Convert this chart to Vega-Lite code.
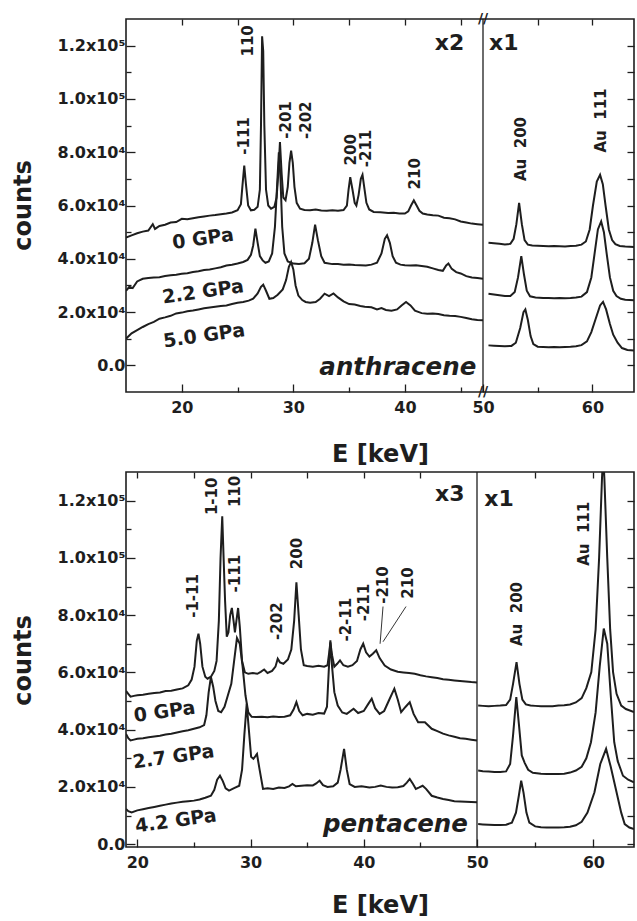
{
"$schema": "https://vega.github.io/schema/vega-lite/v6.json",
"background": "white",
"padding": {"left": 10, "top": 11, "right": 1, "bottom": 0},
"bounds": "flush",
"spacing": 80,
"config": {
 "view": {"stroke": "#1e1e1e", "strokeWidth": 1.6},
 "font": "DejaVu Sans",
 "axis": {"domain": false, "grid": false, "labelFont": "DejaVu Sans", "labelFontWeight": "bold", "labelFontSize": 16, "labelColor": "#1e1e1e", "tickColor": "#1e1e1e", "tickWidth": 1.3, "titleFont": "DejaVu Sans", "titleFontWeight": "bold", "titleFontSize": 24, "titleColor": "#1e1e1e"}
},
"datasets": {
 "topLines": [
  {"s":"a0","e":15,"c":48000},{"s":"a0","e":15.5,"c":48800},{"s":"a0","e":16,"c":49600},{"s":"a0","e":16.5,"c":50200},{"s":"a0","e":17,"c":50600},{"s":"a0","e":17.4,"c":53000},{"s":"a0","e":17.6,"c":51200},{"s":"a0","e":18,"c":52300},{"s":"a0","e":18.5,"c":52800},{"s":"a0","e":19,"c":53600},{"s":"a0","e":19.5,"c":53800},{"s":"a0","e":20,"c":55000},{"s":"a0","e":20.5,"c":54800},{"s":"a0","e":21,"c":55200},{"s":"a0","e":21.5,"c":55600},{"s":"a0","e":22,"c":55900},{"s":"a0","e":22.5,"c":56200},{"s":"a0","e":23,"c":56400},{"s":"a0","e":23.5,"c":56700},{"s":"a0","e":24,"c":57000},{"s":"a0","e":24.5,"c":57400},{"s":"a0","e":25,"c":58200},{"s":"a0","e":25.3,"c":60500},{"s":"a0","e":25.45,"c":68000},{"s":"a0","e":25.6,"c":75000},{"s":"a0","e":25.75,"c":68000},{"s":"a0","e":25.95,"c":60000},{"s":"a0","e":26.2,"c":58200},{"s":"a0","e":26.5,"c":58400},{"s":"a0","e":26.8,"c":59500},{"s":"a0","e":27,"c":66000},{"s":"a0","e":27.1,"c":90000},{"s":"a0","e":27.2,"c":123500},{"s":"a0","e":27.3,"c":118000},{"s":"a0","e":27.4,"c":90000},{"s":"a0","e":27.55,"c":66000},{"s":"a0","e":27.75,"c":60000},{"s":"a0","e":28,"c":58800},{"s":"a0","e":28.3,"c":59500},{"s":"a0","e":28.5,"c":63000},{"s":"a0","e":28.65,"c":72000},{"s":"a0","e":28.8,"c":83800},{"s":"a0","e":28.95,"c":72000},{"s":"a0","e":29.1,"c":63000},{"s":"a0","e":29.3,"c":62000},{"s":"a0","e":29.5,"c":67000},{"s":"a0","e":29.65,"c":76000},{"s":"a0","e":29.8,"c":80600},{"s":"a0","e":29.95,"c":76000},{"s":"a0","e":30.1,"c":67000},{"s":"a0","e":30.3,"c":61000},{"s":"a0","e":30.6,"c":58800},{"s":"a0","e":31,"c":58300},{"s":"a0","e":31.5,"c":58200},{"s":"a0","e":32,"c":58500},{"s":"a0","e":32.5,"c":58100},{"s":"a0","e":33,"c":58000},{"s":"a0","e":33.5,"c":58200},{"s":"a0","e":34,"c":58000},{"s":"a0","e":34.5,"c":58300},{"s":"a0","e":34.8,"c":60000},{"s":"a0","e":34.95,"c":66000},{"s":"a0","e":35.1,"c":70600},{"s":"a0","e":35.3,"c":66000},{"s":"a0","e":35.5,"c":61000},{"s":"a0","e":35.65,"c":60000},{"s":"a0","e":35.85,"c":64000},{"s":"a0","e":36.05,"c":70000},{"s":"a0","e":36.2,"c":71500},{"s":"a0","e":36.35,"c":67000},{"s":"a0","e":36.55,"c":61000},{"s":"a0","e":36.8,"c":58500},{"s":"a0","e":37.2,"c":57600},{"s":"a0","e":37.8,"c":57500},{"s":"a0","e":38.5,"c":57200},{"s":"a0","e":39,"c":57300},{"s":"a0","e":39.5,"c":57000},{"s":"a0","e":40,"c":57000},{"s":"a0","e":40.3,"c":57800},{"s":"a0","e":40.55,"c":60000},{"s":"a0","e":40.8,"c":61900},{"s":"a0","e":41.05,"c":60000},{"s":"a0","e":41.3,"c":58000},{"s":"a0","e":41.6,"c":57000},{"s":"a0","e":42,"c":56600},{"s":"a0","e":42.5,"c":56300},{"s":"a0","e":43,"c":56200},{"s":"a0","e":43.5,"c":55400},{"s":"a0","e":44,"c":55200},{"s":"a0","e":44.5,"c":54800},{"s":"a0","e":45,"c":54000},{"s":"a0","e":45.5,"c":53600},{"s":"a0","e":46,"c":53200},{"s":"a0","e":46.5,"c":53000},{"s":"a0","e":47,"c":52800},
  {"s":"a22","e":15,"c":28000},{"s":"a22","e":15.3,"c":29500},{"s":"a22","e":15.6,"c":29000},{"s":"a22","e":16,"c":31500},{"s":"a22","e":16.5,"c":32500},{"s":"a22","e":17,"c":32800},{"s":"a22","e":17.5,"c":33000},{"s":"a22","e":18,"c":33100},{"s":"a22","e":18.5,"c":33500},{"s":"a22","e":19,"c":33800},{"s":"a22","e":19.5,"c":34000},{"s":"a22","e":20,"c":34400},{"s":"a22","e":20.5,"c":34600},{"s":"a22","e":21,"c":35000},{"s":"a22","e":21.5,"c":35300},{"s":"a22","e":22,"c":35800},{"s":"a22","e":22.5,"c":36000},{"s":"a22","e":23,"c":36400},{"s":"a22","e":23.5,"c":36800},{"s":"a22","e":24,"c":37500},{"s":"a22","e":24.5,"c":37800},{"s":"a22","e":25,"c":38200},{"s":"a22","e":25.5,"c":38800},{"s":"a22","e":25.9,"c":39600},{"s":"a22","e":26.2,"c":41500},{"s":"a22","e":26.4,"c":45000},{"s":"a22","e":26.6,"c":51300},{"s":"a22","e":26.8,"c":46000},{"s":"a22","e":27,"c":41000},{"s":"a22","e":27.25,"c":39400},{"s":"a22","e":27.5,"c":38500},{"s":"a22","e":27.8,"c":39000},{"s":"a22","e":28.1,"c":42000},{"s":"a22","e":28.35,"c":52000},{"s":"a22","e":28.55,"c":68000},{"s":"a22","e":28.7,"c":80000},{"s":"a22","e":28.85,"c":70000},{"s":"a22","e":29,"c":52000},{"s":"a22","e":29.2,"c":42000},{"s":"a22","e":29.5,"c":39000},{"s":"a22","e":30,"c":38200},{"s":"a22","e":30.5,"c":38000},{"s":"a22","e":31,"c":38300},{"s":"a22","e":31.4,"c":40000},{"s":"a22","e":31.7,"c":46000},{"s":"a22","e":31.95,"c":52800},{"s":"a22","e":32.2,"c":47000},{"s":"a22","e":32.5,"c":41000},{"s":"a22","e":32.8,"c":38500},{"s":"a22","e":33.5,"c":38000},{"s":"a22","e":34,"c":38000},{"s":"a22","e":34.5,"c":37800},{"s":"a22","e":35,"c":37900},{"s":"a22","e":35.5,"c":37700},{"s":"a22","e":36,"c":37600},{"s":"a22","e":36.5,"c":37500},{"s":"a22","e":37,"c":37800},{"s":"a22","e":37.5,"c":38500},{"s":"a22","e":37.9,"c":42000},{"s":"a22","e":38.2,"c":47500},{"s":"a22","e":38.4,"c":48800},{"s":"a22","e":38.65,"c":46000},{"s":"a22","e":38.9,"c":41000},{"s":"a22","e":39.2,"c":38500},{"s":"a22","e":39.6,"c":37800},{"s":"a22","e":40,"c":37600},{"s":"a22","e":40.5,"c":37500},{"s":"a22","e":41,"c":37600},{"s":"a22","e":41.5,"c":37300},{"s":"a22","e":42,"c":37000},{"s":"a22","e":42.5,"c":36400},{"s":"a22","e":43,"c":35800},{"s":"a22","e":43.4,"c":35500},{"s":"a22","e":43.7,"c":37500},{"s":"a22","e":43.9,"c":38200},{"s":"a22","e":44.2,"c":36200},{"s":"a22","e":44.6,"c":35000},{"s":"a22","e":45,"c":34500},{"s":"a22","e":45.5,"c":33500},{"s":"a22","e":46,"c":33000},{"s":"a22","e":46.5,"c":32800},{"s":"a22","e":47,"c":32500},
  {"s":"a50","e":15,"c":10000},{"s":"a50","e":15.5,"c":12000},{"s":"a50","e":16,"c":13200},{"s":"a50","e":16.5,"c":14400},{"s":"a50","e":17,"c":15500},{"s":"a50","e":17.5,"c":16300},{"s":"a50","e":18,"c":17500},{"s":"a50","e":18.5,"c":18000},{"s":"a50","e":19,"c":18600},{"s":"a50","e":19.5,"c":19500},{"s":"a50","e":20,"c":19800},{"s":"a50","e":20.5,"c":20300},{"s":"a50","e":21,"c":20600},{"s":"a50","e":21.5,"c":21000},{"s":"a50","e":22,"c":21400},{"s":"a50","e":22.5,"c":21700},{"s":"a50","e":23,"c":22000},{"s":"a50","e":23.5,"c":22300},{"s":"a50","e":24,"c":22500},{"s":"a50","e":24.5,"c":23000},{"s":"a50","e":25,"c":23500},{"s":"a50","e":25.5,"c":23800},{"s":"a50","e":26,"c":24300},{"s":"a50","e":26.4,"c":25000},{"s":"a50","e":26.8,"c":27000},{"s":"a50","e":27.1,"c":29500},{"s":"a50","e":27.3,"c":30300},{"s":"a50","e":27.55,"c":28000},{"s":"a50","e":27.85,"c":25000},{"s":"a50","e":28.2,"c":25300},{"s":"a50","e":28.6,"c":26500},{"s":"a50","e":29.05,"c":28500},{"s":"a50","e":29.35,"c":32000},{"s":"a50","e":29.6,"c":37000},{"s":"a50","e":29.8,"c":38800},{"s":"a50","e":30,"c":36000},{"s":"a50","e":30.2,"c":30000},{"s":"a50","e":30.45,"c":26200},{"s":"a50","e":30.8,"c":24500},{"s":"a50","e":31.1,"c":23800},{"s":"a50","e":31.5,"c":23500},{"s":"a50","e":32,"c":23800},{"s":"a50","e":32.4,"c":25000},{"s":"a50","e":32.8,"c":26900},{"s":"a50","e":33.2,"c":26000},{"s":"a50","e":33.6,"c":27000},{"s":"a50","e":34,"c":25500},{"s":"a50","e":34.5,"c":24000},{"s":"a50","e":35,"c":23000},{"s":"a50","e":35.5,"c":22800},{"s":"a50","e":36,"c":22300},{"s":"a50","e":36.4,"c":22000},{"s":"a50","e":37,"c":21800},{"s":"a50","e":37.5,"c":21000},{"s":"a50","e":37.9,"c":21500},{"s":"a50","e":38.3,"c":20800},{"s":"a50","e":38.8,"c":20500},{"s":"a50","e":39.3,"c":21000},{"s":"a50","e":39.7,"c":22500},{"s":"a50","e":40.1,"c":23800},{"s":"a50","e":40.5,"c":22500},{"s":"a50","e":40.9,"c":20500},{"s":"a50","e":41.5,"c":19600},{"s":"a50","e":42,"c":19400},{"s":"a50","e":42.5,"c":19500},{"s":"a50","e":43,"c":19300},{"s":"a50","e":43.5,"c":18800},{"s":"a50","e":44,"c":18600},{"s":"a50","e":44.5,"c":18500},{"s":"a50","e":45,"c":18200},{"s":"a50","e":45.5,"c":17800},{"s":"a50","e":46,"c":17300},{"s":"a50","e":46.5,"c":17000},{"s":"a50","e":47,"c":16900},
  {"s":"b0","e":50.5,"c":46000},{"s":"b0","e":51,"c":45800},{"s":"b0","e":51.5,"c":45600},{"s":"b0","e":52,"c":45400},{"s":"b0","e":52.5,"c":45600},{"s":"b0","e":52.8,"c":47500},{"s":"b0","e":53.05,"c":53000},{"s":"b0","e":53.3,"c":61000},{"s":"b0","e":53.55,"c":53000},{"s":"b0","e":53.8,"c":47000},{"s":"b0","e":54.1,"c":45300},{"s":"b0","e":54.5,"c":45000},{"s":"b0","e":55,"c":44900},{"s":"b0","e":55.5,"c":44800},{"s":"b0","e":56,"c":44700},{"s":"b0","e":56.5,"c":44800},{"s":"b0","e":57,"c":44700},{"s":"b0","e":57.5,"c":44600},{"s":"b0","e":58,"c":44800},{"s":"b0","e":58.5,"c":44900},{"s":"b0","e":59,"c":45300},{"s":"b0","e":59.4,"c":46500},{"s":"b0","e":59.75,"c":51000},{"s":"b0","e":60.05,"c":60000},{"s":"b0","e":60.4,"c":69000},{"s":"b0","e":60.7,"c":71500},{"s":"b0","e":60.95,"c":68000},{"s":"b0","e":61.2,"c":60000},{"s":"b0","e":61.5,"c":51000},{"s":"b0","e":61.8,"c":47000},{"s":"b0","e":62.1,"c":45500},{"s":"b0","e":62.5,"c":44800},{"s":"b0","e":63,"c":44600},{"s":"b0","e":63.8,"c":44400},
  {"s":"b22","e":50.5,"c":26900},{"s":"b22","e":51,"c":26600},{"s":"b22","e":51.5,"c":26300},{"s":"b22","e":52,"c":26000},{"s":"b22","e":52.5,"c":26000},{"s":"b22","e":52.9,"c":27500},{"s":"b22","e":53.2,"c":33000},{"s":"b22","e":53.5,"c":41000},{"s":"b22","e":53.75,"c":34000},{"s":"b22","e":54,"c":28000},{"s":"b22","e":54.3,"c":25900},{"s":"b22","e":54.8,"c":25500},{"s":"b22","e":55.5,"c":25300},{"s":"b22","e":56,"c":25300},{"s":"b22","e":56.5,"c":25200},{"s":"b22","e":57,"c":25300},{"s":"b22","e":57.5,"c":25200},{"s":"b22","e":58,"c":25300},{"s":"b22","e":58.5,"c":25500},{"s":"b22","e":59,"c":25800},{"s":"b22","e":59.5,"c":27500},{"s":"b22","e":59.9,"c":33000},{"s":"b22","e":60.2,"c":42000},{"s":"b22","e":60.5,"c":51000},{"s":"b22","e":60.8,"c":54000},{"s":"b22","e":61.05,"c":50000},{"s":"b22","e":61.3,"c":42000},{"s":"b22","e":61.6,"c":33000},{"s":"b22","e":61.9,"c":28000},{"s":"b22","e":62.2,"c":26000},{"s":"b22","e":62.6,"c":25000},{"s":"b22","e":63,"c":24600},{"s":"b22","e":63.8,"c":24400},
  {"s":"b50","e":50.5,"c":7500},{"s":"b50","e":51,"c":7400},{"s":"b50","e":51.5,"c":7300},{"s":"b50","e":52,"c":7200},{"s":"b50","e":52.6,"c":7300},{"s":"b50","e":53,"c":8500},{"s":"b50","e":53.4,"c":14000},{"s":"b50","e":53.7,"c":20000},{"s":"b50","e":53.87,"c":21000},{"s":"b50","e":54.1,"c":17000},{"s":"b50","e":54.35,"c":11000},{"s":"b50","e":54.6,"c":8000},{"s":"b50","e":55,"c":7000},{"s":"b50","e":55.5,"c":6900},{"s":"b50","e":56,"c":6800},{"s":"b50","e":56.5,"c":6900},{"s":"b50","e":57,"c":6800},{"s":"b50","e":57.5,"c":6900},{"s":"b50","e":58,"c":7000},{"s":"b50","e":58.5,"c":7200},{"s":"b50","e":59,"c":7600},{"s":"b50","e":59.5,"c":9000},{"s":"b50","e":59.9,"c":12500},{"s":"b50","e":60.3,"c":17500},{"s":"b50","e":60.7,"c":22500},{"s":"b50","e":60.97,"c":23800},{"s":"b50","e":61.25,"c":21000},{"s":"b50","e":61.6,"c":15500},{"s":"b50","e":61.9,"c":11500},{"s":"b50","e":62.3,"c":8500},{"s":"b50","e":62.7,"c":6500},{"s":"b50","e":63.2,"c":5800},{"s":"b50","e":63.8,"c":5600}
 ],
 "topHkl": [
  {"e":25.58,"c":86100,"t":"-111"},{"e":25.94,"c":121800,"t":"110"},{"e":29.3,"c":92100,"t":"-201"},{"e":31.09,"c":92000,"t":"-202"},{"e":35.17,"c":80900,"t":"200"},{"e":36.5,"c":81400,"t":"-211"},{"e":40.9,"c":71900,"t":"210"},{"e":53.43,"c":81200,"t":"Au\u00a0\u00a0200"},{"e":60.74,"c":91900,"t":"Au\u00a0\u00a0111"}
 ],
 "topPress": [
  {"e":21.9,"c":47500,"t":"0 GPa"},{"e":21.9,"c":27600,"t":"2.2 GPa"},{"e":22.0,"c":11100,"t":"5.0 GPa"}
 ],
 "topFactor": [
  {"e":44.0,"c":121000,"t":"x2"},{"e":51.9,"c":121000,"t":"x1"}
 ],
 "topName": [{"e":46.4,"c":-3500,"t":"anthracene"}],
 "topBreak": [{"e":50,"c":130000},{"e":50,"c":-10000}],
 "topDivider": [{"e":50}],
 "botLines": [
  {"s":"p0","e":19,"c":53500},{"s":"p0","e":19.2,"c":52500},{"s":"p0","e":19.4,"c":51500},{"s":"p0","e":19.7,"c":51800},{"s":"p0","e":20,"c":52000},{"s":"p0","e":20.5,"c":52200},{"s":"p0","e":21,"c":52500},{"s":"p0","e":21.5,"c":52800},{"s":"p0","e":22,"c":53000},{"s":"p0","e":22.5,"c":53500},{"s":"p0","e":23,"c":53600},{"s":"p0","e":23.5,"c":54000},{"s":"p0","e":24,"c":54400},{"s":"p0","e":24.5,"c":55500},{"s":"p0","e":24.8,"c":57500},{"s":"p0","e":25.05,"c":62000},{"s":"p0","e":25.25,"c":71000},{"s":"p0","e":25.4,"c":73500},{"s":"p0","e":25.55,"c":70000},{"s":"p0","e":25.75,"c":62000},{"s":"p0","e":26,"c":58500},{"s":"p0","e":26.2,"c":57800},{"s":"p0","e":26.5,"c":58500},{"s":"p0","e":26.8,"c":60500},{"s":"p0","e":27,"c":64000},{"s":"p0","e":27.2,"c":78000},{"s":"p0","e":27.35,"c":100000},{"s":"p0","e":27.5,"c":114500},{"s":"p0","e":27.62,"c":100000},{"s":"p0","e":27.75,"c":85000},{"s":"p0","e":27.9,"c":72500},{"s":"p0","e":28.05,"c":74000},{"s":"p0","e":28.2,"c":80000},{"s":"p0","e":28.35,"c":82500},{"s":"p0","e":28.5,"c":78000},{"s":"p0","e":28.62,"c":74000},{"s":"p0","e":28.75,"c":78000},{"s":"p0","e":28.9,"c":82500},{"s":"p0","e":29.05,"c":76000},{"s":"p0","e":29.25,"c":64000},{"s":"p0","e":29.5,"c":60000},{"s":"p0","e":29.8,"c":59500},{"s":"p0","e":30.2,"c":59800},{"s":"p0","e":30.6,"c":59500},{"s":"p0","e":30.9,"c":60200},{"s":"p0","e":31.2,"c":61000},{"s":"p0","e":31.5,"c":59800},{"s":"p0","e":31.9,"c":60500},{"s":"p0","e":32.2,"c":62000},{"s":"p0","e":32.4,"c":64800},{"s":"p0","e":32.6,"c":63500},{"s":"p0","e":32.9,"c":63000},{"s":"p0","e":33.3,"c":64500},{"s":"p0","e":33.6,"c":68000},{"s":"p0","e":33.85,"c":78000},{"s":"p0","e":34.05,"c":91500},{"s":"p0","e":34.25,"c":80000},{"s":"p0","e":34.45,"c":68000},{"s":"p0","e":34.7,"c":62500},{"s":"p0","e":35,"c":62200},{"s":"p0","e":35.5,"c":62000},{"s":"p0","e":36,"c":62300},{"s":"p0","e":36.5,"c":62000},{"s":"p0","e":36.8,"c":62500},{"s":"p0","e":36.95,"c":67000},{"s":"p0","e":37.05,"c":70500},{"s":"p0","e":37.2,"c":66000},{"s":"p0","e":37.4,"c":62000},{"s":"p0","e":37.65,"c":63000},{"s":"p0","e":37.9,"c":64200},{"s":"p0","e":38.2,"c":62500},{"s":"p0","e":38.6,"c":62000},{"s":"p0","e":39,"c":62500},{"s":"p0","e":39.4,"c":64000},{"s":"p0","e":39.7,"c":68000},{"s":"p0","e":39.95,"c":70000},{"s":"p0","e":40.2,"c":67000},{"s":"p0","e":40.5,"c":65500},{"s":"p0","e":40.8,"c":66500},{"s":"p0","e":41.1,"c":67700},{"s":"p0","e":41.4,"c":65000},{"s":"p0","e":41.85,"c":62400},{"s":"p0","e":42.4,"c":61000},{"s":"p0","e":43,"c":60200},{"s":"p0","e":43.5,"c":60000},{"s":"p0","e":44,"c":59800},{"s":"p0","e":44.5,"c":59500},{"s":"p0","e":45,"c":59000},{"s":"p0","e":45.5,"c":58600},{"s":"p0","e":46,"c":58300},{"s":"p0","e":46.5,"c":58000},{"s":"p0","e":47,"c":57600},{"s":"p0","e":47.5,"c":57400},{"s":"p0","e":48,"c":57200},{"s":"p0","e":48.5,"c":57000},{"s":"p0","e":49,"c":56800},{"s":"p0","e":49.5,"c":56600},{"s":"p0","e":50,"c":56500},
  {"s":"p27","e":19,"c":38500},{"s":"p27","e":19.2,"c":37000},{"s":"p27","e":19.4,"c":36200},{"s":"p27","e":19.7,"c":36500},{"s":"p27","e":20,"c":36800},{"s":"p27","e":20.5,"c":37000},{"s":"p27","e":21,"c":37300},{"s":"p27","e":21.5,"c":37600},{"s":"p27","e":22,"c":37900},{"s":"p27","e":22.5,"c":38300},{"s":"p27","e":23,"c":38600},{"s":"p27","e":23.5,"c":39000},{"s":"p27","e":24,"c":39400},{"s":"p27","e":24.5,"c":39800},{"s":"p27","e":25,"c":40300},{"s":"p27","e":25.5,"c":40800},{"s":"p27","e":25.9,"c":41600},{"s":"p27","e":26.1,"c":45000},{"s":"p27","e":26.3,"c":53000},{"s":"p27","e":26.5,"c":58400},{"s":"p27","e":26.7,"c":55000},{"s":"p27","e":26.9,"c":50000},{"s":"p27","e":27.15,"c":46500},{"s":"p27","e":27.4,"c":46100},{"s":"p27","e":27.7,"c":48000},{"s":"p27","e":28,"c":52000},{"s":"p27","e":28.3,"c":56000},{"s":"p27","e":28.55,"c":64000},{"s":"p27","e":28.8,"c":72000},{"s":"p27","e":29.05,"c":70000},{"s":"p27","e":29.3,"c":62000},{"s":"p27","e":29.55,"c":52000},{"s":"p27","e":29.8,"c":46000},{"s":"p27","e":30.1,"c":44500},{"s":"p27","e":30.5,"c":44400},{"s":"p27","e":31,"c":44500},{"s":"p27","e":31.5,"c":44300},{"s":"p27","e":32,"c":44600},{"s":"p27","e":32.5,"c":44400},{"s":"p27","e":33,"c":44500},{"s":"p27","e":33.5,"c":45000},{"s":"p27","e":33.8,"c":47000},{"s":"p27","e":34.05,"c":49600},{"s":"p27","e":34.3,"c":46500},{"s":"p27","e":34.6,"c":45000},{"s":"p27","e":35,"c":45500},{"s":"p27","e":35.5,"c":45200},{"s":"p27","e":36,"c":45800},{"s":"p27","e":36.5,"c":45600},{"s":"p27","e":36.75,"c":48000},{"s":"p27","e":36.9,"c":60000},{"s":"p27","e":37.05,"c":71200},{"s":"p27","e":37.2,"c":62000},{"s":"p27","e":37.4,"c":53100},{"s":"p27","e":37.7,"c":48400},{"s":"p27","e":38.1,"c":46000},{"s":"p27","e":38.5,"c":45500},{"s":"p27","e":39.1,"c":47300},{"s":"p27","e":39.5,"c":45800},{"s":"p27","e":40,"c":46500},{"s":"p27","e":40.4,"c":49000},{"s":"p27","e":40.7,"c":50800},{"s":"p27","e":41,"c":47500},{"s":"p27","e":41.4,"c":45500},{"s":"p27","e":41.8,"c":46500},{"s":"p27","e":42.2,"c":50000},{"s":"p27","e":42.7,"c":54300},{"s":"p27","e":43,"c":50500},{"s":"p27","e":43.3,"c":46100},{"s":"p27","e":43.7,"c":48000},{"s":"p27","e":44.06,"c":49600},{"s":"p27","e":44.4,"c":45500},{"s":"p27","e":44.8,"c":42600},{"s":"p27","e":45.4,"c":42600},{"s":"p27","e":46,"c":40300},{"s":"p27","e":46.5,"c":39500},{"s":"p27","e":47,"c":38600},{"s":"p27","e":47.5,"c":38000},{"s":"p27","e":48,"c":37500},{"s":"p27","e":48.5,"c":37000},{"s":"p27","e":49,"c":36800},{"s":"p27","e":49.5,"c":36500},{"s":"p27","e":50,"c":36200},
  {"s":"p42","e":19,"c":12300},{"s":"p42","e":19.2,"c":11500},{"s":"p42","e":19.5,"c":11100},{"s":"p42","e":20,"c":11800},{"s":"p42","e":20.5,"c":12200},{"s":"p42","e":21,"c":12600},{"s":"p42","e":21.5,"c":13000},{"s":"p42","e":22,"c":13400},{"s":"p42","e":22.5,"c":13800},{"s":"p42","e":23,"c":14200},{"s":"p42","e":23.5,"c":14500},{"s":"p42","e":24,"c":14800},{"s":"p42","e":24.5,"c":15000},{"s":"p42","e":25,"c":15200},{"s":"p42","e":25.5,"c":15600},{"s":"p42","e":26,"c":16200},{"s":"p42","e":26.5,"c":16900},{"s":"p42","e":26.8,"c":19000},{"s":"p42","e":27.05,"c":22500},{"s":"p42","e":27.3,"c":23900},{"s":"p42","e":27.55,"c":22000},{"s":"p42","e":27.8,"c":19500},{"s":"p42","e":28.1,"c":18700},{"s":"p42","e":28.5,"c":19500},{"s":"p42","e":29,"c":20400},{"s":"p42","e":29.25,"c":26000},{"s":"p42","e":29.45,"c":38000},{"s":"p42","e":29.66,"c":49000},{"s":"p42","e":29.85,"c":40000},{"s":"p42","e":30.05,"c":30500},{"s":"p42","e":30.25,"c":29800},{"s":"p42","e":30.57,"c":31500},{"s":"p42","e":30.8,"c":26000},{"s":"p42","e":31.1,"c":19300},{"s":"p42","e":31.5,"c":19500},{"s":"p42","e":32,"c":19300},{"s":"p42","e":32.5,"c":19800},{"s":"p42","e":33,"c":19600},{"s":"p42","e":33.4,"c":20200},{"s":"p42","e":33.7,"c":21000},{"s":"p42","e":34,"c":20200},{"s":"p42","e":34.5,"c":20400},{"s":"p42","e":35,"c":20600},{"s":"p42","e":35.5,"c":20500},{"s":"p42","e":35.8,"c":21200},{"s":"p42","e":36.1,"c":22200},{"s":"p42","e":36.4,"c":20600},{"s":"p42","e":36.8,"c":20000},{"s":"p42","e":37.3,"c":20200},{"s":"p42","e":37.7,"c":21500},{"s":"p42","e":37.95,"c":26000},{"s":"p42","e":38.26,"c":33300},{"s":"p42","e":38.5,"c":26000},{"s":"p42","e":38.75,"c":21000},{"s":"p42","e":39.2,"c":20000},{"s":"p42","e":39.8,"c":20200},{"s":"p42","e":40.5,"c":19800},{"s":"p42","e":41,"c":20000},{"s":"p42","e":41.5,"c":20500},{"s":"p42","e":42,"c":20000},{"s":"p42","e":42.5,"c":19800},{"s":"p42","e":43,"c":19900},{"s":"p42","e":43.5,"c":20300},{"s":"p42","e":43.8,"c":21500},{"s":"p42","e":44.06,"c":22800},{"s":"p42","e":44.35,"c":21000},{"s":"p42","e":44.6,"c":19300},{"s":"p42","e":44.9,"c":19800},{"s":"p42","e":45.2,"c":20400},{"s":"p42","e":45.5,"c":19300},{"s":"p42","e":46,"c":16900},{"s":"p42","e":46.5,"c":16300},{"s":"p42","e":47,"c":15800},{"s":"p42","e":47.5,"c":15400},{"s":"p42","e":48,"c":15000},{"s":"p42","e":48.5,"c":14900},{"s":"p42","e":49,"c":14800},{"s":"p42","e":49.5,"c":14700},{"s":"p42","e":50,"c":14600},
  {"s":"q0","e":50.1,"c":48400},{"s":"q0","e":50.5,"c":48300},{"s":"q0","e":51,"c":48200},{"s":"q0","e":51.5,"c":48300},{"s":"q0","e":52,"c":48400},{"s":"q0","e":52.5,"c":48600},{"s":"q0","e":52.85,"c":50500},{"s":"q0","e":53.1,"c":56000},{"s":"q0","e":53.4,"c":63600},{"s":"q0","e":53.65,"c":56000},{"s":"q0","e":53.9,"c":50500},{"s":"q0","e":54.2,"c":48800},{"s":"q0","e":54.6,"c":48400},{"s":"q0","e":55,"c":48300},{"s":"q0","e":55.5,"c":48200},{"s":"q0","e":56,"c":48200},{"s":"q0","e":56.5,"c":48200},{"s":"q0","e":57,"c":48400},{"s":"q0","e":57.5,"c":48500},{"s":"q0","e":58,"c":48800},{"s":"q0","e":58.5,"c":49500},{"s":"q0","e":59,"c":51000},{"s":"q0","e":59.4,"c":54500},{"s":"q0","e":59.83,"c":60100},{"s":"q0","e":60.2,"c":75000},{"s":"q0","e":60.5,"c":100000},{"s":"q0","e":60.75,"c":128000},{"s":"q0","e":60.85,"c":136000},{"s":"q0","e":60.95,"c":128000},{"s":"q0","e":61.2,"c":100000},{"s":"q0","e":61.45,"c":75000},{"s":"q0","e":61.7,"c":60100},{"s":"q0","e":62,"c":52500},{"s":"q0","e":62.4,"c":48400},{"s":"q0","e":62.8,"c":47200},{"s":"q0","e":63.5,"c":46100},
  {"s":"q27","e":50.1,"c":25700},{"s":"q27","e":50.5,"c":25500},{"s":"q27","e":51,"c":25400},{"s":"q27","e":51.5,"c":25200},{"s":"q27","e":52,"c":25200},{"s":"q27","e":52.5,"c":25400},{"s":"q27","e":52.85,"c":28000},{"s":"q27","e":53.1,"c":38000},{"s":"q27","e":53.38,"c":51400},{"s":"q27","e":53.6,"c":42000},{"s":"q27","e":53.85,"c":31000},{"s":"q27","e":54.1,"c":28400},{"s":"q27","e":54.4,"c":26000},{"s":"q27","e":54.8,"c":24900},{"s":"q27","e":55.5,"c":24600},{"s":"q27","e":56,"c":24500},{"s":"q27","e":56.5,"c":24500},{"s":"q27","e":57,"c":24500},{"s":"q27","e":57.5,"c":24600},{"s":"q27","e":58,"c":25000},{"s":"q27","e":58.5,"c":25700},{"s":"q27","e":59,"c":27000},{"s":"q27","e":59.4,"c":30000},{"s":"q27","e":59.8,"c":35600},{"s":"q27","e":60.2,"c":46000},{"s":"q27","e":60.55,"c":62000},{"s":"q27","e":60.9,"c":75300},{"s":"q27","e":61.2,"c":70000},{"s":"q27","e":61.5,"c":52000},{"s":"q27","e":61.8,"c":35600},{"s":"q27","e":62.1,"c":29000},{"s":"q27","e":62.55,"c":23900},{"s":"q27","e":63,"c":22500},{"s":"q27","e":63.5,"c":21600},
  {"s":"q42","e":50.1,"c":7000},{"s":"q42","e":50.5,"c":6900},{"s":"q42","e":51,"c":6800},{"s":"q42","e":51.5,"c":6700},{"s":"q42","e":52,"c":6700},{"s":"q42","e":52.5,"c":6800},{"s":"q42","e":53,"c":7500},{"s":"q42","e":53.35,"c":11000},{"s":"q42","e":53.6,"c":17000},{"s":"q42","e":53.8,"c":22200},{"s":"q42","e":54,"c":18000},{"s":"q42","e":54.25,"c":11000},{"s":"q42","e":54.5,"c":7500},{"s":"q42","e":55,"c":6200},{"s":"q42","e":55.5,"c":5900},{"s":"q42","e":56,"c":5800},{"s":"q42","e":56.5,"c":5800},{"s":"q42","e":57,"c":5800},{"s":"q42","e":57.5,"c":5900},{"s":"q42","e":58,"c":6100},{"s":"q42","e":58.5,"c":6600},{"s":"q42","e":59,"c":7800},{"s":"q42","e":59.5,"c":11000},{"s":"q42","e":60.1,"c":18100},{"s":"q42","e":60.6,"c":28000},{"s":"q42","e":61.1,"c":33300},{"s":"q42","e":61.5,"c":27000},{"s":"q42","e":62,"c":18100},{"s":"q42","e":62.4,"c":11000},{"s":"q42","e":62.7,"c":7000},{"s":"q42","e":63.1,"c":5800},{"s":"q42","e":63.5,"c":5300}
 ],
 "botHkl": [
  {"e":24.92,"c":86700,"t":"-1-11"},{"e":26.6,"c":121500,"t":"1-10"},{"e":28.6,"c":123200,"t":"110"},{"e":28.63,"c":94500,"t":"-111"},{"e":34.1,"c":101500,"t":"200"},{"e":32.34,"c":77900,"t":"-202"},{"e":38.4,"c":78400,"t":"-2-11"},{"e":40.0,"c":84400,"t":"-211"},{"e":41.7,"c":90500,"t":"-210"},{"e":43.9,"c":91200,"t":"210"},{"e":53.48,"c":80400,"t":"Au\u00a0\u00a0200"},{"e":59.16,"c":108400,"t":"Au\u00a0\u00a0111"}
 ],
 "botPress": [
  {"e":22.4,"c":46200,"t":"0 GPa"},{"e":23.2,"c":30500,"t":"2.7 GPa"},{"e":23.4,"c":8100,"t":"4.2 GPa"}
 ],
 "botFactor": [
  {"e":47.6,"c":122200,"t":"x3"},{"e":51.9,"c":120400,"t":"x1"}
 ],
 "botName": [{"e":49.2,"c":4200,"t":"pentacene"}],
 "botDivider": [{"e":50}],
 "botLeader": [
  {"e":41.7,"c":83000,"e2":41.44,"c2":70000},{"e":43.73,"c":83000,"e2":41.7,"c2":70700}
 ]
},
"vconcat": [
 {
  "width": 508, "height": 373,
  "resolve": {"axis": {"x": "independent", "y": "independent"}},
  "layer": [
   {
    "data": {"name": "topLines"},
    "mark": {"type": "line", "color": "#1e1e1e", "strokeWidth": 2, "clip": true},
    "encoding": {
     "x": {"field": "e", "type": "quantitative",
      "scale": {"domain": [15, 47, 50, 63.8], "range": [0, 357, 357, 508], "nice": false, "zero": false},
      "axis": {"orient": "bottom", "values": [20, 25, 30, 35, 40, 45, 50, 55, 60], "labelExpr": "datum.value % 10 === 0 ? datum.label : ''", "tickSize": {"condition": {"test": "datum.value % 10 === 0", "value": -8}, "value": -5}, "labelPadding": 15, "labelOverlap": false, "labelFlush": false, "title": "E [keV]", "titlePadding": 24}},
     "y": {"field": "c", "type": "quantitative",
      "scale": {"domain": [-10000, 130000], "nice": false, "zero": false},
      "axis": {"orient": "left", "values": [0, 10000, 20000, 30000, 40000, 50000, 60000, 70000, 80000, 90000, 100000, 110000, 120000], "labelExpr": "datum.value % 20000 !== 0 ? '' : datum.value === 0 ? '0.0' : datum.value >= 100000 ? format(datum.value / 100000, '.1f') + 'x10⁵' : format(datum.value / 10000, '.1f') + 'x10⁴'", "tickSize": {"condition": {"test": "datum.value % 20000 === 0", "value": -9}, "value": -5}, "labelPadding": 10, "labelOverlap": false, "title": "counts", "titleX": -96, "titleY": 186, "titleAngle": 270, "titleAlign": "center", "titleBaseline": "alphabetic"}},
     "detail": {"field": "s"}
    }
   },
   {
    "data": {"name": "topDivider"},
    "mark": {"type": "rule", "color": "#1e1e1e", "strokeWidth": 1.3},
    "encoding": {"x": {"field": "e", "type": "quantitative", "scale": {"domain": [15, 47, 50, 63.8], "range": [0, 357, 357, 508], "nice": false, "zero": false}, "axis": null}}
   },
   {
    "data": {"name": "topHkl"},
    "mark": {"type": "text", "angle": 270, "font": "DejaVu Sans", "fontWeight": "bold", "fontSize": 15, "color": "#1e1e1e", "align": "center", "baseline": "middle"},
    "encoding": {
     "x": {"field": "e", "type": "quantitative", "scale": {"domain": [15, 47, 50, 63.8], "range": [0, 357, 357, 508], "nice": false, "zero": false},
      "axis": {"orient": "top", "values": [20, 25, 30, 35, 40, 45, 55, 60], "labels": false, "tickSize": -6, "title": null}},
     "y": {"field": "c", "type": "quantitative", "scale": {"domain": [-10000, 130000], "nice": false, "zero": false},
      "axis": {"orient": "right", "values": [0, 10000, 20000, 30000, 40000, 50000, 60000, 70000, 80000, 90000, 100000, 110000, 120000], "labels": false, "tickSize": -7, "title": null}},
     "text": {"field": "t"}
    }
   },
   {
    "data": {"name": "topPress"},
    "mark": {"type": "text", "angle": -8, "font": "DejaVu Sans", "fontWeight": "bold", "fontSize": 19, "color": "#1e1e1e", "align": "center", "baseline": "middle"},
    "encoding": {
     "x": {"field": "e", "type": "quantitative", "scale": {"domain": [15, 47, 50, 63.8], "range": [0, 357, 357, 508], "nice": false, "zero": false}, "axis": null},
     "y": {"field": "c", "type": "quantitative", "scale": {"domain": [-10000, 130000], "nice": false, "zero": false}, "axis": null},
     "text": {"field": "t"}
    }
   },
   {
    "data": {"name": "topFactor"},
    "mark": {"type": "text", "font": "DejaVu Sans", "fontWeight": "bold", "fontSize": 22, "color": "#1e1e1e", "align": "center", "baseline": "middle"},
    "encoding": {
     "x": {"field": "e", "type": "quantitative", "scale": {"domain": [15, 47, 50, 63.8], "range": [0, 357, 357, 508], "nice": false, "zero": false}, "axis": null},
     "y": {"field": "c", "type": "quantitative", "scale": {"domain": [-10000, 130000], "nice": false, "zero": false}, "axis": null},
     "text": {"field": "t"}
    }
   },
   {
    "data": {"name": "topName"},
    "mark": {"type": "text", "font": "DejaVu Sans", "fontWeight": "bold", "fontStyle": "italic", "fontSize": 24.5, "color": "#1e1e1e", "align": "right", "baseline": "alphabetic"},
    "encoding": {
     "x": {"field": "e", "type": "quantitative", "scale": {"domain": [15, 47, 50, 63.8], "range": [0, 357, 357, 508], "nice": false, "zero": false}, "axis": null},
     "y": {"field": "c", "type": "quantitative", "scale": {"domain": [-10000, 130000], "nice": false, "zero": false}, "axis": null},
     "text": {"field": "t"}
    }
   },
   {
    "data": {"name": "topBreak"},
    "mark": {"type": "text", "text": "//", "font": "DejaVu Sans", "fontWeight": "bold", "fontSize": 14, "color": "#1e1e1e", "align": "center", "baseline": "middle"},
    "encoding": {
     "x": {"field": "e", "type": "quantitative", "scale": {"domain": [15, 47, 50, 63.8], "range": [0, 357, 357, 508], "nice": false, "zero": false}, "axis": null},
     "y": {"field": "c", "type": "quantitative", "scale": {"domain": [-10000, 130000], "nice": false, "zero": false}, "axis": null}
    }
   }
  ]
 },
 {
  "width": 508, "height": 375,
  "resolve": {"axis": {"x": "independent", "y": "independent"}},
  "layer": [
   {
    "data": {"name": "botLines"},
    "mark": {"type": "line", "color": "#1e1e1e", "strokeWidth": 2, "clip": true},
    "encoding": {
     "x": {"field": "e", "type": "quantitative",
      "scale": {"domain": [19, 50, 63.5], "range": [0, 351, 508], "nice": false, "zero": false},
      "axis": {"orient": "bottom", "values": [20, 25, 30, 35, 40, 45, 50, 55, 60], "labelExpr": "datum.value % 10 === 0 ? datum.label : ''", "tickSize": {"condition": {"test": "datum.value % 10 === 0", "value": -8}, "value": -5}, "labelPadding": 15, "labelOverlap": false, "labelFlush": false, "title": "E [keV]", "titlePadding": 20}},
     "y": {"field": "c", "type": "quantitative",
      "scale": {"domain": [-1000, 130000], "nice": false, "zero": false},
      "axis": {"orient": "left", "values": [0, 10000, 20000, 30000, 40000, 50000, 60000, 70000, 80000, 90000, 100000, 110000, 120000], "labelExpr": "datum.value % 20000 !== 0 ? '' : datum.value === 0 ? '0.0' : datum.value >= 100000 ? format(datum.value / 100000, '.1f') + 'x10⁵' : format(datum.value / 10000, '.1f') + 'x10⁴'", "tickSize": {"condition": {"test": "datum.value % 20000 === 0", "value": -9}, "value": -5}, "labelPadding": 10, "labelOverlap": false, "title": "counts", "titleX": -96, "titleY": 188, "titleAngle": 270, "titleAlign": "center", "titleBaseline": "alphabetic"}},
     "detail": {"field": "s"}
    }
   },
   {
    "data": {"name": "botDivider"},
    "mark": {"type": "rule", "color": "#1e1e1e", "strokeWidth": 1.3},
    "encoding": {"x": {"field": "e", "type": "quantitative", "scale": {"domain": [19, 50, 63.5], "range": [0, 351, 508], "nice": false, "zero": false}, "axis": null}}
   },
   {
    "data": {"name": "botHkl"},
    "mark": {"type": "text", "angle": 270, "font": "DejaVu Sans", "fontWeight": "bold", "fontSize": 15, "color": "#1e1e1e", "align": "center", "baseline": "middle"},
    "encoding": {
     "x": {"field": "e", "type": "quantitative", "scale": {"domain": [19, 50, 63.5], "range": [0, 351, 508], "nice": false, "zero": false},
      "axis": {"orient": "top", "values": [20, 25, 30, 35, 40, 45, 55, 60], "labels": false, "tickSize": -6, "title": null}},
     "y": {"field": "c", "type": "quantitative", "scale": {"domain": [-1000, 130000], "nice": false, "zero": false},
      "axis": {"orient": "right", "values": [0, 10000, 20000, 30000, 40000, 50000, 60000, 70000, 80000, 90000, 100000, 110000, 120000], "labels": false, "tickSize": -7, "title": null}},
     "text": {"field": "t"}
    }
   },
   {
    "data": {"name": "botLeader"},
    "mark": {"type": "rule", "color": "#1e1e1e", "strokeWidth": 0.9},
    "encoding": {
     "x": {"field": "e", "type": "quantitative", "scale": {"domain": [19, 50, 63.5], "range": [0, 351, 508], "nice": false, "zero": false}, "axis": null},
     "y": {"field": "c", "type": "quantitative", "scale": {"domain": [-1000, 130000], "nice": false, "zero": false}, "axis": null},
     "x2": {"field": "e2"},
     "y2": {"field": "c2"}
    }
   },
   {
    "data": {"name": "botPress"},
    "mark": {"type": "text", "angle": -8, "font": "DejaVu Sans", "fontWeight": "bold", "fontSize": 19, "color": "#1e1e1e", "align": "center", "baseline": "middle"},
    "encoding": {
     "x": {"field": "e", "type": "quantitative", "scale": {"domain": [19, 50, 63.5], "range": [0, 351, 508], "nice": false, "zero": false}, "axis": null},
     "y": {"field": "c", "type": "quantitative", "scale": {"domain": [-1000, 130000], "nice": false, "zero": false}, "axis": null},
     "text": {"field": "t"}
    }
   },
   {
    "data": {"name": "botFactor"},
    "mark": {"type": "text", "font": "DejaVu Sans", "fontWeight": "bold", "fontSize": 22, "color": "#1e1e1e", "align": "center", "baseline": "middle"},
    "encoding": {
     "x": {"field": "e", "type": "quantitative", "scale": {"domain": [19, 50, 63.5], "range": [0, 351, 508], "nice": false, "zero": false}, "axis": null},
     "y": {"field": "c", "type": "quantitative", "scale": {"domain": [-1000, 130000], "nice": false, "zero": false}, "axis": null},
     "text": {"field": "t"}
    }
   },
   {
    "data": {"name": "botName"},
    "mark": {"type": "text", "font": "DejaVu Sans", "fontWeight": "bold", "fontStyle": "italic", "fontSize": 24.5, "color": "#1e1e1e", "align": "right", "baseline": "alphabetic"},
    "encoding": {
     "x": {"field": "e", "type": "quantitative", "scale": {"domain": [19, 50, 63.5], "range": [0, 351, 508], "nice": false, "zero": false}, "axis": null},
     "y": {"field": "c", "type": "quantitative", "scale": {"domain": [-1000, 130000], "nice": false, "zero": false}, "axis": null},
     "text": {"field": "t"}
    }
   }
  ]
 }
]
}
